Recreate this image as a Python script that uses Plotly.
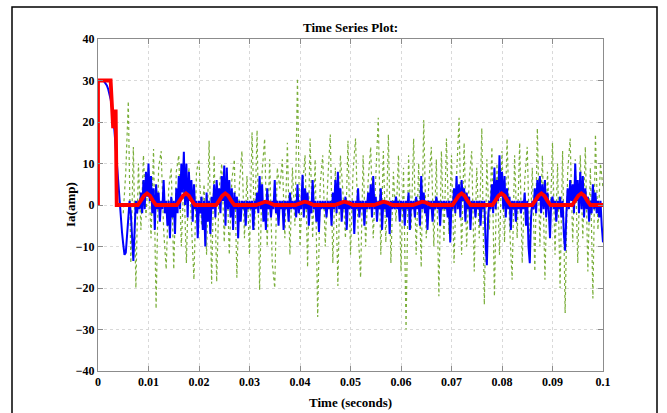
import numpy as np
import plotly.graph_objects as go

# ---------------- data ----------------
x_tick_vals = [0, 0.01, 0.02, 0.03, 0.04, 0.05, 0.06, 0.07, 0.08, 0.09, 0.1]
x_tick_text = ["0", "0.01", "0.02", "0.03", "0.04", "0.05", "0.06", "0.07", "0.08", "0.09", "0.1"]
y_tick_vals = [-40, -30, -20, -10, 0, 10, 20, 30, 40]

blue_step = 0.00025
blue_vals = [
    30, 30, 30, 30, 29.9, 29.7, 29.3, 28.8, 28, 27, 25.5, 23.5, 21, 18, 14, 9.5, 5, 1, -3, -6.5,
    -9.5, -12, -11.5, -8, -3, 1, -2, -9, -13.5, -6, 1, -2, 1, -1, 3, -2, 6, -1, 8, 2,
    10, 1, 7, -2, 4, -6, 5, -1, 3, -4, 1, -1, 6, -2, 1, -5, 1, -8, 2, -3,
    1, -7, 4, -2, 7, -1, 10, 3, 12.8, 0, 10, -3, 8, 1, 6, -4, 5, -1, 1, -8,
    1, -2, 2, -6, 1, -10, 3, -4, 1, -7, 2, -1, 5, -3, 6, 0, 4, -2, 7, 1,
    9.5, -5, 9, -1, 6, -3, 4, -6, 3, -1, 2, -8, 1, -4, 1, -1, 1, -5, 1, -1,
    1, -1, 1, -6, 1, -1, 3, -2, 7, -1, 5, -4, 1, -6, 4, -1, 1, -3, 1, -1,
    6, -2, 1, -5, 1, -1, 1, -6, 1, -1, 1, -4, 3, -1, 1, -1, 1, -3, 5, -2,
    1, -1, 7.3, -3, 4, -1, 3, -5, 1, -2, 6, -1, 1, -4, 1, -6.5, 1, -1, 1, -1,
    1, -3, 1, -1, 1, -5, 3, -1, 6, -2, 8, -1, 4, -4, 1, -1, 2, -6, 1, -1,
    1, -1, 1, -7, 1, -1, 4, -3, 1, -1, 1, -5, 1, -1, 3, -1, 5, -3, 7, -1,
    2, -4, 1, -1, 4, -6, 1, -1, 1, -3, 1, -7, 1, -1, 1, -1, 2, -1, 1, -4,
    1, -1, 1, -5, 1, -1, 3, -6, 1, -1, 1, -3, 2, -1, 1, -5, 7, -1, 3, -2,
    1, -6, 1, -1, 1, -4, 1, -1, 2, -1, 1, -5, 1, -1, 1, -1, 1, -3, 1, -9,
    1, -1, 4, -2, 7, -1, 5, -3, 6, 1, 4, -4, 3, -1, 2, -6, 1, -1, 1, -3,
    1, -1, 1, -5, 1, -1, 1, -9, -14.5, -3, 1, -1, 5, -2, 9, -1, 6, 1, 12, 2,
    8, -1, 7, -3, 4, -1, 2, -6, 1, -1, 1, -4, 1, -1, 1, -2, 1, -1, 3, -5,
    1, -10, -14, -3, 1, -1, 4, -2, 6, 1, 7, -2, 5, -1, 6, -3, 3, -1, -8, 1,
    2, -1, 1, -4, 1, -1, 2, -3, 1, -7, -11, -2, 4, -1, 6, 1, 5, -2, 10, 1,
    6, -2, 8, -1, 7, -3, 4, -1, 2, -4, 1, -2, 5, -1, 3, -2, 1, -3, 1, -5,
    -9,
]

green_start = 0.005
green_step = 0.0005
green_vals = [
    -2, 8, 25, -14, 14, -20, 10, -6, 12, -3,
    9, -8, 13.5, -25, 9, 13, -6, -15.5, 4, 9,
    -15.5, 8, 12, -10, 6, -14, 9, -4, -18, 8,
    11, -5, 5, -12, 15.5, -19, 12, -18.5, 4, 10,
    -9, 9, -12, 6, 11, -17.5, 5, 13, -8, 7,
    -12, 17.5, -6, 18, -20.5, 8, 16, -10, 11, -14,
    -20, 9, 4, 11, -8, 15, -12, 9, -5, 30.5,
    -10, 4, 12, -15, 16, -8, 11, -27, 5, 12,
    -10, 6, 17, -14, 9, -19.5, 12, 3, -8, 15.5,
    -12, 8, 16, -6, -17.5, 12, -10, 6, 14, -8,
    9, 21, -12, 13, -9, 17, -14, 8, -4, 12,
    -16, 9, -30, 12, -6, 16, -12, 10, -15, 20.5,
    -8, 5, 14, -10, 11, -22, 13, -9, 16, -7,
    12, -14, 7, 21, -12, 15, -10, 6, 13, -16,
    9, -8, 18.5, -24, 11, -6, 14, -22, 10, -12,
    13, -9, 16, -5, -18, 12, -8, 15, -14, 6,
    14, -11, 9, -16, 18.5, -10, 12, -18, 8, -6,
    15, -12, 10, -20, 13, -26, 8, 16, -9, 11,
    -14, 12, -8, 14, -16, 9, -22.5, 17, -6, 10,
    4,
]

red_t = [
    0, 0, 0.0025, 0.003, 0.0035, 0.0037,
    0.0079, 0.0085, 0.0091, 0.0097, 0.0103, 0.0109, 0.0115,
    0.0156, 0.0162, 0.0168, 0.0174, 0.0180, 0.0186, 0.0192,
    0.0234, 0.0240, 0.0246, 0.0252, 0.0258, 0.0264, 0.0270,
    0.0313, 0.0319, 0.0325, 0.0331, 0.0337, 0.0343, 0.0349,
    0.0391, 0.0397, 0.0403, 0.0409, 0.0415, 0.0421, 0.0427,
    0.0469, 0.0475, 0.0481, 0.0487, 0.0493, 0.0499, 0.0505,
    0.0547, 0.0553, 0.0559, 0.0565, 0.0571, 0.0577, 0.0583,
    0.0624, 0.0630, 0.0636, 0.0642, 0.0648, 0.0654, 0.0660,
    0.0702, 0.0708, 0.0714, 0.0720, 0.0726, 0.0732, 0.0738,
    0.0781, 0.0787, 0.0793, 0.0799, 0.0805, 0.0811, 0.0817,
    0.0860, 0.0866, 0.0872, 0.0878, 0.0884, 0.0890, 0.0896,
    0.0939, 0.0945, 0.0951, 0.0957, 0.0963, 0.0969, 0.0975,
    0.1,
]
red_v = [
    0, 30, 30, 18.5, 23, 0,
    0, 1.0, 2.2, 2.8, 2.2, 1.0, 0,
    0, 1.0, 2.2, 2.8, 2.2, 1.0, 0,
    0, 1.0, 2.2, 2.8, 2.2, 1.0, 0,
    0, 0.3, 0.65, 0.8, 0.65, 0.3, 0,
    0, 0.3, 0.65, 0.8, 0.65, 0.3, 0,
    0, 0.3, 0.65, 0.8, 0.65, 0.3, 0,
    0, 0.3, 0.65, 0.8, 0.65, 0.3, 0,
    0, 0.3, 0.65, 0.8, 0.65, 0.3, 0,
    0, 1.0, 2.2, 2.8, 2.2, 1.0, 0,
    0, 1.0, 2.2, 2.8, 2.2, 1.0, 0,
    0, 1.0, 2.2, 2.8, 2.2, 1.0, 0,
    0, 1.0, 2.2, 2.8, 2.2, 1.0, 0,
    0,
]

blue_t = np.arange(len(blue_vals)) * blue_step
green_t = green_start + np.arange(len(green_vals)) * green_step

# ---------------- figure ----------------
W, H = 667, 413
ML, MR, MT, MB = 98, 64, 39, 42
pw, ph = W - ML - MR, H - MT - MB

def px_x(px):
    return (px - ML) / pw

def px_y(py):
    return (H - MB - py) / ph

FONT = "Liberation Serif"

fig = go.Figure()
fig.add_trace(go.Scatter(x=green_t, y=green_vals, mode="lines",
                         line=dict(color="#7aae3a", width=1.2, dash="dot")))
fig.add_trace(go.Scatter(x=blue_t, y=blue_vals, mode="lines",
                         line=dict(color="#0000ff", width=2)))
fig.add_trace(go.Scatter(x=red_t, y=red_v, mode="lines",
                         line=dict(color="#ff0000", width=3.8)))

axis_common = dict(
    showgrid=True, gridcolor="#d9d9d9", griddash="dot", gridwidth=1,
    showline=True, linecolor="#8c8c8c", linewidth=1, mirror="ticks",
    ticks="inside", ticklen=5, tickcolor="#8c8c8c", zeroline=False,
    tickfont=dict(family=FONT, size=12, color="black", weight="bold"),
)

fig.update_layout(
    width=W, height=H,
    margin=dict(l=ML, r=MR, t=MT, b=MB),
    paper_bgcolor="white", plot_bgcolor="white",
    showlegend=False,
    xaxis=dict(range=[0, 0.1], tickvals=x_tick_vals, ticktext=x_tick_text, **axis_common),
    yaxis=dict(range=[-40, 40], tickvals=y_tick_vals, **axis_common),
    annotations=[
        dict(text="Time Series Plot:", xref="paper", yref="paper",
             x=0.5, y=px_y(27), xanchor="center", yanchor="middle", showarrow=False,
             font=dict(family=FONT, size=13, color="black", weight="bold")),
        dict(text="Time (seconds)", xref="paper", yref="paper",
             x=0.5, y=px_y(402), xanchor="center", yanchor="middle", showarrow=False,
             font=dict(family=FONT, size=13, color="black", weight="bold")),
        dict(text="Ia(amp)", xref="paper", yref="paper",
             x=px_x(70), y=px_y(205), xanchor="center", yanchor="middle", showarrow=False,
             textangle=-90,
             font=dict(family=FONT, size=13, color="black", weight="bold")),
    ],
    shapes=[
        dict(type="rect", xref="paper", yref="paper",
             x0=px_x(12), x1=px_x(657), y0=px_y(430), y1=px_y(7),
             line=dict(color="black", width=1.5), fillcolor="rgba(0,0,0,0)", layer="above"),
    ],
)

fig.write_html("out.html",
               config={"displayModeBar": False},
               post_script="document.body.style.margin='0';document.body.style.overflow='hidden';")
